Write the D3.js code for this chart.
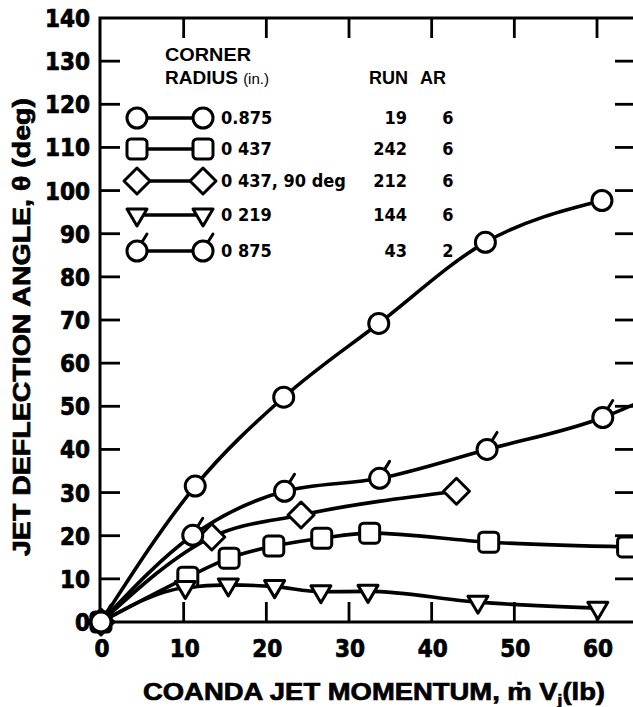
<!DOCTYPE html>
<html>
<head>
<meta charset="utf-8">
<script src="https://cdn.jsdelivr.net/npm/d3@7"></script>
<style>
  body { margin: 0; background: #fff; }
  svg { display: block; }
  text { fill: #000; font-weight: bold; }
  .heavy { stroke: #000; stroke-width: 0.7px; }
</style>
</head>
<body>
<svg id="chart" width="633" height="707"></svg>
<script>
// Axis ticks
const xTicks = [0, 10, 20, 30, 40, 50, 60];
const yTicks = [0, 10, 20, 30, 40, 50, 60, 70, 80, 90, 100, 110, 120, 130, 140];

// Jet deflection angle (deg) vs Coanda jet momentum (lb), one array per run
const run19 = [[0, 0], [11.4, 31.5], [22.1, 52.1], [33.6, 69.2], [46.5, 88.0], [60.6, 97.7]];
const run242 = [[0, 0], [10.5, 10.4], [15.5, 14.8], [20.9, 17.6], [26.7, 19.4], [32.5, 20.6], [46.9, 18.5], [63.7, 17.4]];
const run212 = [[0, 0], [13.4, 19.7], [24.2, 24.8], [43.0, 30.3]];
const run144 = [[0, 0], [10.2, 8.0], [15.4, 8.6], [21.0, 8.2], [26.6, 7.0], [32.3, 7.1], [45.6, 4.6], [60.1, 3.2]];
const run43 = [[0, 0], [11.1, 20.1], [22.2, 30.3], [33.7, 33.3], [46.7, 40.0], [60.7, 47.4], [67.0, 52.6]];

// Legend entries
const radiusLabels = ["0.875", "0 437", "0 437, 90 deg", "0 219", "0 875"];
const runLabels = ["19", "242", "212", "144", "43"];
const arLabels = ["6", "6", "6", "6", "2"];
const symbols = ["circle", "square", "diamond", "triangle", "flag"];
const seriesData = [run19, run242, run212, run144, run43];

const NARROW = "'Liberation Sans Narrow', 'DejaVu Sans Condensed', 'Arial Narrow', sans-serif";
const WIDE = "'Liberation Sans', Arial, Helvetica, sans-serif";

const svg = d3.select("#chart");
const frameLeft = 101, frameTop = 18, frameBottom = 622, frameRight = 635;

const x = d3.scaleLinear().domain([0, 60]).range([frameLeft, 597]);
const y = d3.scaleLinear().domain([0, 140]).range([frameBottom, frameTop]);
const xMax = x.invert(frameRight);

// Frame
svg.append("rect")
  .attr("x", 100).attr("y", frameTop)
  .attr("width", frameRight - 100).attr("height", frameBottom - frameTop)
  .attr("fill", "none").attr("stroke", "#000").attr("stroke-width", 3);

// Inward ticks on all four sides
const tickLen = 20;
const tickG = svg.append("g").attr("stroke", "#000").attr("stroke-width", 2.8);
xTicks.filter(d => d > 0).forEach(d => {
  tickG.append("line").attr("x1", x(d)).attr("x2", x(d)).attr("y1", frameBottom).attr("y2", frameBottom - tickLen);
  tickG.append("line").attr("x1", x(d)).attr("x2", x(d)).attr("y1", frameTop).attr("y2", frameTop + tickLen);
});
yTicks.filter(d => d > 0 && d < 140).forEach(d => {
  tickG.append("line").attr("x1", 100).attr("x2", 100 + tickLen).attr("y1", y(d)).attr("y2", y(d));
  tickG.append("line").attr("x1", frameRight - tickLen).attr("x2", frameRight).attr("y1", y(d)).attr("y2", y(d));
});

// Tick labels
svg.append("g").selectAll("text").data(xTicks).join("text")
  .attr("class", "heavy")
  .attr("x", d => x(d) + 1).attr("y", 657)
  .attr("text-anchor", "middle")
  .style("font-family", NARROW).style("font-size", "24px")
  .text(d => d);

svg.append("g").selectAll("text").data(yTicks).join("text")
  .attr("class", "heavy")
  .attr("x", 90).attr("y", d => y(d) + 9)
  .attr("text-anchor", "end")
  .style("font-family", NARROW).style("font-size", "24px")
  .text(d => d);

// Axis titles
svg.append("text")
  .attr("class", "heavy")
  .attr("x", 374).attr("y", 700)
  .attr("text-anchor", "middle")
  .style("font-family", WIDE).style("font-size", "24px")
  .attr("textLength", 462).attr("lengthAdjust", "spacingAndGlyphs")
  .html("COANDA JET MOMENTUM, ṁ V<tspan dy='5' font-size='15'>j</tspan><tspan dy='-5'>(lb)</tspan>");

svg.append("text")
  .attr("class", "heavy")
  .attr("transform", "translate(30,327) rotate(-90)")
  .attr("text-anchor", "middle")
  .style("font-family", WIDE).style("font-size", "24px")
  .attr("textLength", 458).attr("lengthAdjust", "spacingAndGlyphs")
  .text("JET DEFLECTION ANGLE, θ (deg)");

// Marker drawing
function drawMarker(g, type) {
  const st = { fill: "#fff", stroke: "#000", "stroke-width": 3 };
  const apply = sel => { for (const k in st) sel.attr(k, st[k]); return sel; };
  if (type === "circle") {
    apply(g.append("circle").attr("r", 10));
  } else if (type === "square") {
    apply(g.append("rect").attr("x", -10).attr("y", -10).attr("width", 20).attr("height", 20).attr("rx", 4));
  } else if (type === "diamond") {
    apply(g.append("path").attr("d", "M0,-13L13,0L0,13L-13,0Z").attr("stroke-linejoin", "round"));
  } else if (type === "triangle") {
    apply(g.append("path").attr("d", "M-10,-6L10,-6L0,11Z").attr("stroke-linejoin", "round"));
  } else if (type === "flag") {
    apply(g.append("circle").attr("r", 10));
    g.append("line").attr("x1", 5).attr("y1", -9).attr("x2", 10).attr("y2", -17)
      .attr("stroke", "#000").attr("stroke-width", 3).attr("stroke-linecap", "round");
  }
}

// Clip data lines to the frame
svg.append("clipPath").attr("id", "plotClip")
  .append("rect").attr("x", 100).attr("y", frameTop).attr("width", frameRight - 100).attr("height", frameBottom - frameTop);

const line = d3.line().x(d => x(d[0])).y(d => y(d[1])).curve(d3.curveMonotoneX);

const plot = svg.append("g");
seriesData.forEach(data => {
  plot.append("path")
    .attr("d", line(data))
    .attr("clip-path", "url(#plotClip)")
    .attr("fill", "none").attr("stroke", "#000").attr("stroke-width", 3.6)
    .attr("stroke-linejoin", "round");
});
seriesData.forEach((data, i) => {
  data.filter(d => d[0] <= xMax).forEach(d => {
    const g = plot.append("g").attr("transform", `translate(${x(d[0])},${y(d[1])})`);
    drawMarker(g, symbols[i]);
  });
});

// Legend
const legend = svg.append("g");
legend.append("text").attr("x", 165).attr("y", 61)
  .style("font-family", WIDE).style("font-size", "19px")
  .attr("textLength", 86).attr("lengthAdjust", "spacingAndGlyphs")
  .text("CORNER");
legend.append("text").attr("x", 165).attr("y", 84)
  .style("font-family", WIDE).style("font-size", "19px")
  .html("RADIUS <tspan font-weight='normal' font-size='15'>(in.)</tspan>");
legend.append("text").attr("x", 369).attr("y", 84)
  .style("font-family", WIDE).style("font-size", "18px")
  .text("RUN");
legend.append("text").attr("x", 420).attr("y", 84)
  .style("font-family", WIDE).style("font-size", "18px")
  .text("AR");

const rowY = [118, 149, 181, 215, 251];
radiusLabels.forEach((lab, i) => {
  const ry = rowY[i];
  legend.append("line").attr("x1", 137).attr("x2", 203).attr("y1", ry).attr("y2", ry)
    .attr("stroke", "#000").attr("stroke-width", 3.6);
  [137, 203].forEach(px => {
    const g = legend.append("g").attr("transform", `translate(${px},${ry})`);
    drawMarker(g, symbols[i]);
  });
  legend.append("text").attr("x", 221).attr("y", ry + 6)
    .style("font-family", NARROW).style("font-size", "18px")
    .text(lab);
  legend.append("text").attr("x", 407).attr("y", ry + 6)
    .attr("text-anchor", "end")
    .style("font-family", NARROW).style("font-size", "18px")
    .text(runLabels[i]);
  legend.append("text").attr("x", 448).attr("y", ry + 6)
    .attr("text-anchor", "middle")
    .style("font-family", NARROW).style("font-size", "18px")
    .text(arLabels[i]);
});
</script>
</body>
</html>
